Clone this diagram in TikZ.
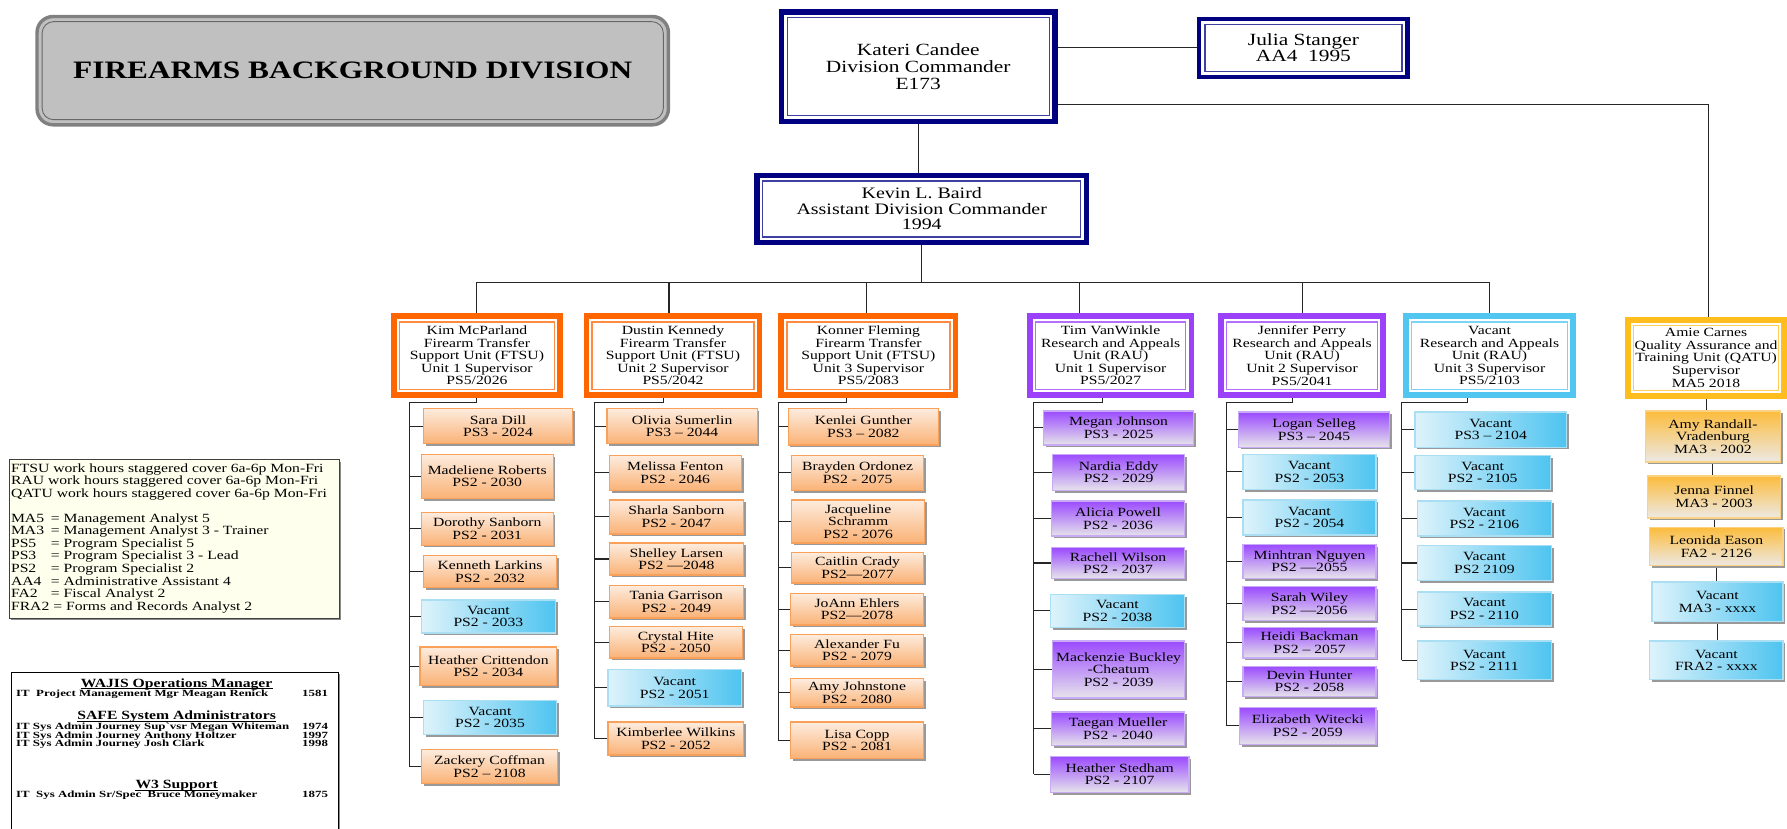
\documentclass[tikz,border=0pt]{standalone}
\usepackage{fontspec}
\setmainfont{Liberation Serif}[FakeStretch=1.25]
\newfontfamily\wajisfont{Liberation Serif}[FakeStretch=1.36]
\usepackage{tikz}
\usetikzlibrary{shadows}
\definecolor{navyline}{RGB}{0,0,128}
\definecolor{ftsuline}{RGB}{255,102,0}
\definecolor{rauline}{RGB}{155,65,250}
\definecolor{vacline}{RGB}{80,198,240}
\definecolor{qatuline}{RGB}{255,190,30}
\definecolor{titlegray}{RGB}{192,192,192}
\definecolor{titleedge}{RGB}{128,128,128}
\definecolor{ftsutop}{RGB}{253,236,222}
\definecolor{ftsubot}{RGB}{250,178,118}
\definecolor{ftsuedge}{RGB}{249,160,90}
\definecolor{rautop}{RGB}{155,75,255}
\definecolor{raubot}{RGB}{230,228,234}
\definecolor{rauedge}{RGB}{200,170,245}
\definecolor{vacleft}{RGB}{222,243,251}
\definecolor{vacright}{RGB}{78,196,240}
\definecolor{vacedge}{RGB}{170,222,242}
\definecolor{qatutop}{RGB}{252,188,60}
\definecolor{qatubot}{RGB}{236,233,229}
\definecolor{qatuedge}{RGB}{250,210,130}
\definecolor{legendfill}{RGB}{255,255,238}
\pgfdeclarelayer{background}
\pgfsetlayers{background,main}

\begin{document}
\begin{tikzpicture}[x=1pt, y=-1pt,
  conn/.style={draw=black!85, line width=0.9pt},
  framebox/.style={draw=#1, line width=5pt, fill=white, inner sep=0pt, align=center,
    font=\fontsize{11}{11}\selectfont,
    path picture={\draw[#1!75, line width=1.1pt]
      ([shift={(5pt,-5pt)}]path picture bounding box.north west) rectangle
      ([shift={(-5pt,5pt)}]path picture bounding box.south east);}},
  staff/.style={draw=#1, line width=1.2pt, inner sep=1pt, align=center,
    font=\fontsize{11}{11}\selectfont,
    drop shadow={shadow xshift=2pt, shadow yshift=-2pt, fill=black!40, opacity=1}},
  ftsustaff/.style={staff=ftsuedge, top color=ftsutop, bottom color=ftsubot},
  raustaff/.style={staff=rauedge, top color=rautop, bottom color=raubot},
  vacstaff/.style={staff=vacedge, left color=vacleft, right color=vacright},
  qatustaff/.style={staff=qatuedge, top color=qatutop, bottom color=qatubot},
  wajishead/.style={inner sep=0pt, font=\bfseries\fontsize{11}{11}\selectfont},
  wajisline/.style={inner sep=0pt, font=\wajisfont\bfseries\fontsize{8.3}{8.3}\selectfont}]
\useasboundingbox (0,0) rectangle (1568,727);

% title
\node[draw=titleedge, line width=3pt, fill=titlegray, rounded corners=14pt,
  minimum width=554pt, minimum height=95pt,
  font=\bfseries\fontsize{22}{24}\selectfont,
  path picture={\draw[titleedge!80!black, line width=0.8pt, rounded corners=10pt]
    ([shift={(4.5pt,-4.5pt)}]path picture bounding box.north west) rectangle
    ([shift={(-4.5pt,4.5pt)}]path picture bounding box.south east);}]
  (title) at (309.5,62) {FIREARMS BACKGROUND DIVISION};

% command
\node[framebox=navyline, minimum width=240pt, minimum height=96pt,
  font=\fontsize{15}{15}\selectfont] (cmd) at (805.7,58.6)
  {Kateri Candee\\Division Commander\\E173};
\node[framebox=navyline, line width=4pt, minimum width=183pt, minimum height=51pt,
  font=\fontsize{15}{14}\selectfont] (jul) at (1143.7,42.1)
  {Julia Stanger\\AA4\ \ 1995};
\node[framebox=navyline, minimum width=289pt, minimum height=59pt,
  font=\fontsize{14}{13.6}\selectfont] (kev) at (808.8,183.4)
  {Kevin L. Baird\\Assistant Division Commander\\1994};

% unit supervisors
\node[framebox=ftsuline, minimum width=146pt, minimum height=69pt] (f1) at (418.5,312)
  {Kim McParland\\Firearm Transfer\\Support Unit (FTSU)\\Unit 1 Supervisor\\PS5/2026};
\node[framebox=ftsuline, minimum width=152pt, minimum height=69pt] (f2) at (590.5,312)
  {Dustin Kennedy\\Firearm Transfer\\Support Unit (FTSU)\\Unit 2 Supervisor\\PS5/2042};
\node[framebox=ftsuline, minimum width=153pt, minimum height=69pt] (f3) at (762,312)
  {Konner Fleming\\Firearm Transfer\\Support Unit (FTSU)\\Unit 3 Supervisor\\PS5/2083};
\node[framebox=rauline, minimum width=142pt, minimum height=69pt] (r1) at (974.5,312)
  {Tim VanWinkle\\Research and Appeals\\Unit (RAU)\\Unit 1 Supervisor\\PS5/2027};
\node[framebox=rauline, minimum width=142pt, minimum height=69pt] (r2) at (1142.5,312)
  {Jennifer Perry\\Research and Appeals\\Unit (RAU)\\Unit 2 Supervisor\\PS5/2041};
\node[framebox=vacline, minimum width=147pt, minimum height=69pt] (r3) at (1307,312)
  {Vacant\\Research and Appeals\\Unit (RAU)\\Unit 3 Supervisor\\PS5/2103};
\node[framebox=qatuline, minimum width=137pt, minimum height=67pt] (q) at (1497,314)
  {Amie Carnes\\Quality Assurance and\\Training Unit (QATU)\\Supervisor\\MA5 2018};

% staff
\foreach \nm/\sty/\xa/\xb/\ya/\yb/\txt in {
  a1/ftsustaff/371/503/358/390/{Sara Dill\\PS3 - 2024},
  a2/ftsustaff/369/486/398/438/{Madeliene Roberts\\PS2 - 2030},
  a3/ftsustaff/369/486/449/479/{Dorothy Sanborn\\PS2 - 2031},
  a4/ftsustaff/371/489/487/516/{Kenneth Larkins\\PS2 - 2032},
  a5/vacstaff/369/488/526/556/{Vacant\\PS2 - 2033},
  a6/ftsustaff/368/489/567/602/{Heather Crittendon\\PS2 - 2034},
  a7/vacstaff/371/489/614/645/{Vacant\\PS2 - 2035},
  a8/ftsustaff/369/490/657/688/{Zackery Coffman\\PS2 – 2108},
  b1/ftsustaff/532/665/358/390/{Olivia Sumerlin\\PS3 – 2044},
  b2/ftsustaff/534/651/399/431/{Melissa Fenton\\PS2 - 2046},
  b3/ftsustaff/534/653/438/469/{Sharla Sanborn\\PS2 - 2047},
  b4/ftsustaff/534/653/476/505/{Shelley Larsen\\PS2 —2048},
  b5/ftsustaff/534/653/513/543/{Tania Garrison\\PS2 - 2049},
  b6/ftsustaff/534/652/549/578/{Crystal Hite\\PS2 - 2050},
  b7/vacstaff/533/651/587/620/{Vacant\\PS2 - 2051},
  b8/ftsustaff/533/653/633/663/{Kimberlee Wilkins\\PS2 - 2052},
  c1/ftsustaff/691/824/358/391/{Kenlei Gunther\\PS3 – 2082},
  c2/ftsustaff/694/811/399/431/{Brayden Ordonez\\PS2 - 2075},
  c3/ftsustaff/694/812/438/477/{Jacqueline\\Schramm\\PS2 - 2076},
  c4/ftsustaff/694/811/484/512/{Caitlin Crady\\PS2—2077},
  c5/ftsustaff/693/811/520/549/{JoAnn Ehlers\\PS2—2078},
  c6/ftsustaff/693/811/556/585/{Alexander Fu\\PS2 - 2079},
  c7/ftsustaff/693/811/595/621/{Amy Johnstone\\PS2 - 2080},
  c8/ftsustaff/693/811/633/666/{Lisa Copp\\PS2 - 2081},
  d1/raustaff/915/1048/360/391/{Megan Johnson\\PS3 - 2025},
  d2/raustaff/923/1040/398/431/{Nardia Eddy\\PS2 - 2029},
  d3/raustaff/922/1040/439/471/{Alicia Powell\\PS2 - 2036},
  d4/raustaff/922/1040/480/508/{Rachell Wilson\\PS2 - 2037},
  d5/vacstaff/921/1040/521/551/{Vacant\\PS2 - 2038},
  d6/raustaff/923/1040/562/613/{Mackenzie Buckley\\-Cheatum\\PS2 - 2039},
  d7/raustaff/922/1040/624/655/{Taegan Mueller\\PS2 - 2040},
  d8/raustaff/921/1044/663/696/{Heather Stedham\\PS2 - 2107},
  e1/raustaff/1086/1220/361/393/{Logan Selleg\\PS3 – 2045},
  e2/vacstaff/1090/1208/398/430/{Vacant\\PS2 - 2053},
  e3/vacstaff/1090/1208/438/470/{Vacant\\PS2 - 2054},
  e4/raustaff/1090/1208/477/508/{Minhtran Nguyen\\PS2 —2055},
  e5/raustaff/1090/1208/514/545/{Sarah Wiley\\PS2 —2056},
  e6/raustaff/1090/1208/550/578/{Heidi Backman\\PS2 – 2057},
  e7/raustaff/1090/1208/584/612/{Devin Hunter\\PS2 - 2058},
  e8/raustaff/1087/1208/620/654/{Elizabeth Witecki\\PS2 - 2059},
  g1/vacstaff/1241/1375/361/393/{Vacant\\PS3 – 2104},
  g2/vacstaff/1241/1361/399/430/{Vacant\\PS2 - 2105},
  g3/vacstaff/1243/1362/439/471/{Vacant\\PS2 - 2106},
  g4/vacstaff/1243/1362/478/510/{Vacant\\PS2 2109},
  g5/vacstaff/1243/1362/519/550/{Vacant\\PS2 - 2110},
  g6/vacstaff/1243/1362/562/597/{Vacant\\PS2 - 2111},
  h1/qatustaff/1443/1563/360/406/{Amy Randall-\\Vradenburg\\MA3 - 2002},
  h2/qatustaff/1445/1563/417/455/{Jenna Finnel\\MA3 - 2003},
  h3/qatustaff/1447/1565/462/497/{Leonida Eason\\FA2 - 2126},
  h4/vacstaff/1449/1565/510/546/{Vacant\\MA3 - xxxx},
  h5/vacstaff/1447/1565/562/597/{Vacant\\FRA2 - xxxx}}
  \node[\sty, minimum width={(\xb-\xa-1.2)*1pt}, minimum height={(\yb-\ya-1.2)*1pt}]
    (\nm) at ({(\xa+\xb)/2},{(\ya+\yb)/2}) {\txt};

% legend
\node[draw=black!75, line width=0.9pt, fill=legendfill, inner sep=0pt,
  minimum width=289pt, minimum height=139pt,
  drop shadow={shadow xshift=1.5pt, shadow yshift=-1.5pt, fill=black!45, opacity=1}]
  (legend) at (153,473) {};
\node[anchor=north west, align=left, inner sep=0pt, font=\fontsize{11}{11}\selectfont]
  (legendtext) at (9.5,406.5)
  {FTSU work hours staggered cover 6a-6p Mon-Fri\\
   RAU work hours staggered cover 6a-6p Mon-Fri\\
   QATU work hours staggered cover 6a-6p Mon-Fri\\[11pt]
   \makebox[35pt][l]{MA5}= Management Analyst 5\\
   \makebox[35pt][l]{MA3}= Management Analyst 3 - Trainer\\
   \makebox[35pt][l]{PS5}= Program Specialist 5\\
   \makebox[35pt][l]{PS3}= Program Specialist 3 - Lead\\
   \makebox[35pt][l]{PS2}= Program Specialist 2\\
   \makebox[35pt][l]{AA4}= Administrative Assistant 4\\
   \makebox[35pt][l]{FA2}= Fiscal Analyst 2\\
   FRA2 = Forms and Records Analyst 2};

% support staff box
\node[draw=black, line width=0.8pt, fill=white, inner sep=0pt,
  minimum width=287pt, minimum height=150pt,
  drop shadow={shadow xshift=1.5pt, shadow yshift=-1.5pt, fill=black!45, opacity=1}]
  (wajis) at (153.5,665) {};
\node[wajishead, anchor=base] (wajish1) at (155,603) {WAJIS Operations Manager};
\node[wajisline, anchor=base west] (wajisl1) at (14,611.3) {IT\ \ Project Management Mgr Meagan Renick};
\node[wajisline, anchor=base west] (wajisn1) at (265,611.3) {1581};
\node[wajishead, anchor=base] (wajish2) at (155,631.2) {SAFE System Administrators};
\node[wajisline, anchor=base west] (wajisl2) at (14,640.5) {IT Sys Admin Journey Sup`vsr Megan Whiteman};
\node[wajisline, anchor=base west] (wajisn2) at (265,640.5) {1974};
\node[wajisline, anchor=base west] (wajisl3) at (14,647.8) {IT Sys Admin Journey Anthony Holtzer};
\node[wajisline, anchor=base west] (wajisn3) at (265,647.8) {1997};
\node[wajisline, anchor=base west] (wajisl4) at (14,654.6) {IT Sys Admin Journey Josh Clark};
\node[wajisline, anchor=base west] (wajisn4) at (265,654.6) {1998};
\node[wajishead, anchor=base] (wajish3) at (155,691.7) {W3 Support};
\node[wajisline, anchor=base west] (wajisl5) at (14,699.6) {IT\ \ Sys Admin Sr/Spec\ \ Bruce Moneymaker};
\node[wajisline, anchor=base west] (wajisn5) at (265,699.6) {1875};
\foreach \h in {wajish1, wajish2, wajish3}
  \draw[line width=0.7pt] ([yshift=-1.4pt]\h.base west) -- ([yshift=-1.4pt]\h.base east);

% connectors
\coordinate (bus) at (808,248);
\coordinate (qcorner) at (1499,92);
\coordinate (aspine) at (359,353);
\coordinate (bspine) at (522,353);
\coordinate (cspine) at (683,353);
\coordinate (dspine) at (907,353);
\coordinate (espine) at (1076,353);
\coordinate (gspine) at (1230,353);
\begin{pgfonlayer}{background}
  \draw[conn] (cmd.east |- jul.west) -- (jul.west);
  \draw[conn] (cmd.east |- qcorner) -- (qcorner) -- (qcorner |- q.north);
  \draw[conn] (cmd.south) -- (cmd.south |- kev.north);
  \draw[conn] (kev.south) -- (kev.south |- bus);
  \draw[conn] (f1.north) |- (bus) -| (r3.north);
  \foreach \boss/\dx in {f2/-3.5, f3/-2, r1/-27.5, r2/0}
    \draw[conn] ([xshift=\dx pt]\boss.north) -- ([xshift=\dx pt]\boss.north |- bus);
  \foreach \boss/\sp/\dx/\col/\last in {f1/aspine/0/a/8, f2/bspine/-8.5/b/8,
      f3/cspine/-19/c/8, r1/dspine/-7.5/d/8, r2/espine/-8.5/e/8, r3/gspine/-19/g/6}{
    \draw[conn] ([xshift=\dx pt]\boss.south) |- (\sp) -- (\sp |- \col\last.west);
    \foreach \i in {1,...,\last}
      \draw[conn] (\col\i.west) -- (\col\i.west -| \sp);
  }
  \foreach \u/\v in {q/h1, h1/h2, h2/h3, h3/h4, h4/h5}
    \draw[conn] (\u.south) -- (\u.south |- \v.north);
\end{pgfonlayer}
\end{tikzpicture}
\end{document}
